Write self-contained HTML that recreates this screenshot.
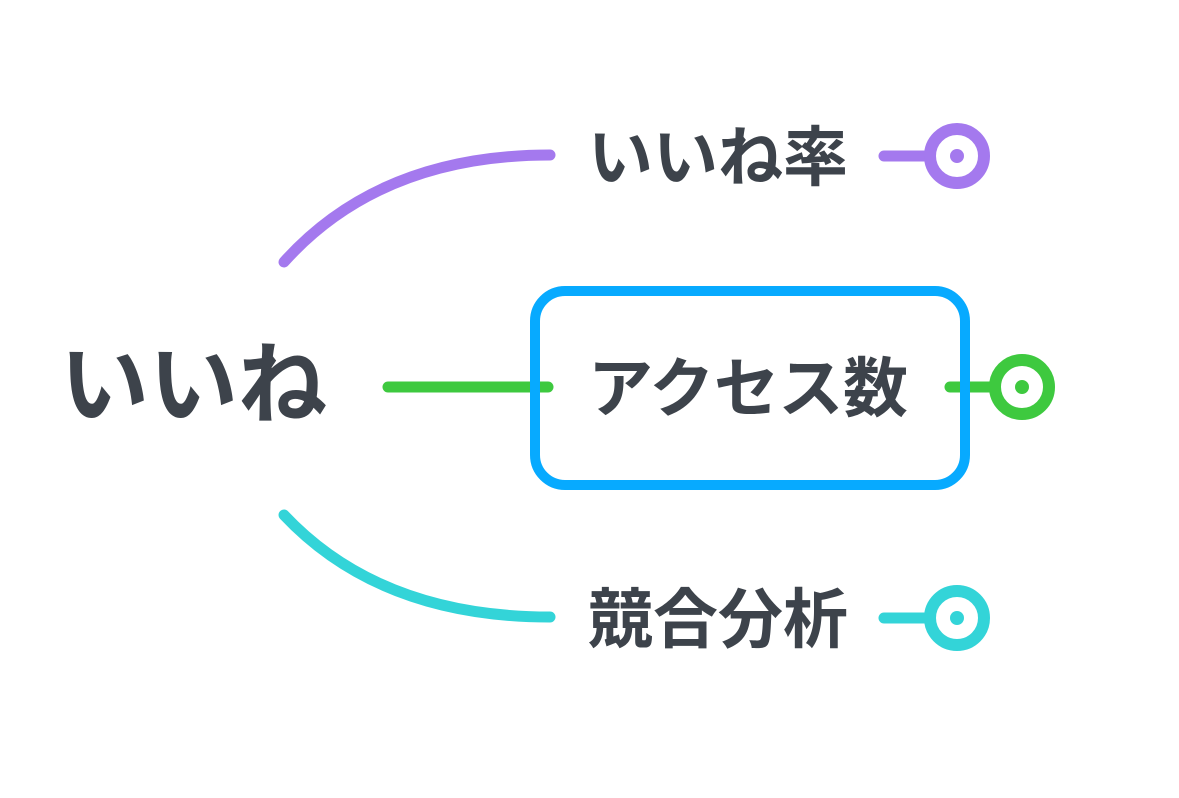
<!DOCTYPE html>
<html><head><meta charset="utf-8"><style>
html,body{margin:0;padding:0;background:#fff;width:1179px;height:798px;overflow:hidden}
</style></head><body>
<svg width="1179" height="798" viewBox="0 0 1179 798" xmlns="http://www.w3.org/2000/svg">
<g fill="none" stroke-linecap="round" stroke-width="11">
<path d="M284 262 Q380 155 550 155" stroke="#a479ee"/>
<path d="M388 387 L548 387" stroke="#3ec93f"/>
<path d="M284 515 Q380 617 550 617" stroke="#33d4d8"/>
<path d="M884 156 L925 156" stroke="#a479ee"/>
<path d="M950 387 L990 387" stroke="#3ec93f"/>
<path d="M884 618 L925 618" stroke="#33d4d8"/>
</g>
<rect x="535" y="291" width="430" height="194" rx="30" fill="none" stroke="#07aaff" stroke-width="10"/>
<g fill="none" stroke-width="12">
<circle cx="957" cy="156" r="27" stroke="#a479ee"/>
<circle cx="1022" cy="387" r="27" stroke="#3ec93f"/>
<circle cx="957" cy="618" r="27" stroke="#33d4d8"/>
</g>
<circle cx="957" cy="156" r="7" fill="#a479ee"/>
<circle cx="1022" cy="387" r="7" fill="#3ec93f"/>
<circle cx="957" cy="618" r="7" fill="#33d4d8"/>
<g font-family="Liberation Sans, Noto Sans CJK JP, sans-serif" font-weight="bold" fill="#3d434b">
<text x="60" y="416" font-size="89">いいね</text>
<text x="588" y="180" font-size="65">いいね率</text>
<text x="588" y="411" font-size="65" textLength="320">アクセス数</text>
<text x="588" y="642" font-size="65">競合分析</text>
</g>
</svg>
</body></html>
